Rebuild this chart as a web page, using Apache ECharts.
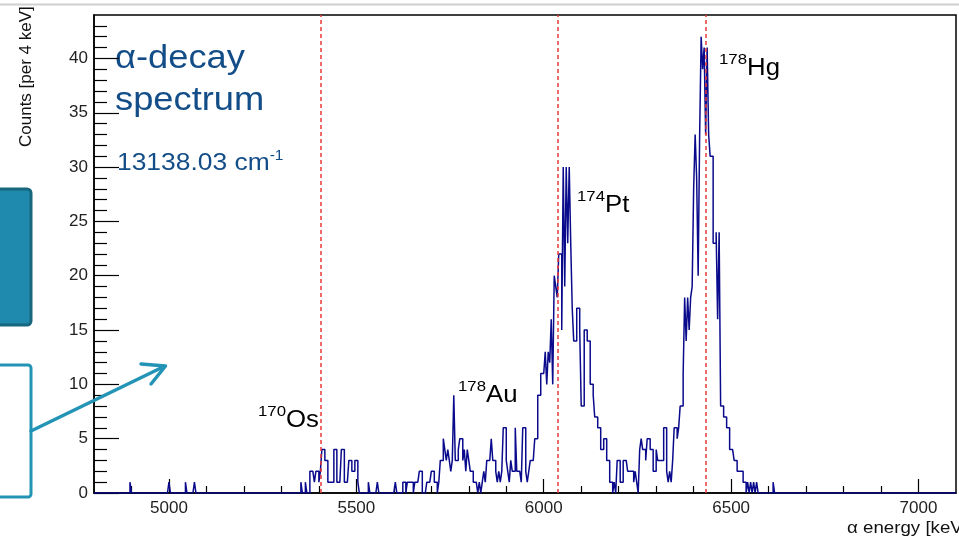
<!DOCTYPE html>
<html>
<head>
<meta charset="utf-8">
<title>alpha-decay spectrum</title>
<script src="https://cdn.jsdelivr.net/npm/echarts@6.0.0/dist/echarts.min.js"></script>
<style>
  html, body { margin: 0; padding: 0; background: #fff; }
  #main { width: 959px; height: 540px; }
</style>
</head>
<body>
<div id="main"></div>
<script>
// histogram range and ticks (keV / counts)
const binWidth = 4;
const xRange = [4800, 7100];
const yRange = [0, 44];
const xMajorTicks = [5000, 5500, 6000, 6500, 7000];
const xMinorTicks = [4900, 5100, 5200, 5300, 5400, 5600, 5700, 5800, 5900, 6100, 6200, 6300, 6400, 6600, 6700, 6800, 6900];
const yMajorTicks = [0, 5, 10, 15, 20, 25, 30, 35, 40];
const yMinorTicks = [1, 2, 3, 4, 6, 7, 8, 9, 11, 12, 13, 14, 16, 17, 18, 19, 21, 22, 23, 24,
                     26, 27, 28, 29, 31, 32, 33, 34, 36, 37, 38, 39, 41, 42, 43];

// single counts on the low energy side [energy, counts]
const lowHits = [[4896, 1], [5000, 1], [5044, 1], [5068, 1]];

// counts per 4 keV bin, each block starts at its start energy
const osStart = 5340;
const osCounts = [
  0, 0, 0, 1, 0, 0, 1, 0, 0, 2,
  2, 2, 1, 2, 2, 1, 2, 4, 4, 3,
  3, 1, 1, 1, 1, 4, 4, 1, 1, 1,
  4, 4, 1, 1, 1, 3, 3, 2, 2, 3,
  3, 1, 0, 0, 0, 0, 0, 0, 1, 0,
  0, 0, 0, 0, 1, 0, 0, 0, 0, 0,
  0, 0, 0, 0, 0, 0, 1, 0, 0, 0,
  0, 1, 1, 0, 1, 1, 1, 1, 0, 1
];
const auStart = 5660;
const auCounts = [
  1, 1, 2, 2, 0, 0, 0, 1, 1, 1,
  2, 2, 1, 1, 0, 1, 3, 3, 5, 4,
  3, 4, 3, 2, 3, 9, 3, 3, 4, 5,
  5, 3, 4, 2, 4, 3, 2, 2, 1, 1,
  1, 0, 1, 0, 1, 2, 1, 3, 3, 3,
  5, 3, 3, 2, 1, 2, 1, 2, 6, 6,
  3, 2, 1, 3, 2, 2, 6, 2, 2, 2,
  1, 6, 6, 2, 1, 2, 3, 3, 3, 5
];
const ptStart = 5980;
const ptCounts = [
  5, 9, 9, 11, 11, 11, 13, 10, 13, 12,
  16, 10, 20, 19, 18, 22, 22, 15, 30, 19,
  30, 23, 30, 23, 17, 14, 14, 17, 17, 15,
  8, 8, 15, 15, 14, 14, 10, 10, 9, 7,
  7, 6, 6, 4, 4, 5, 5, 3, 3, 1,
  1, 0, 1, 0, 3, 3, 1, 1, 3, 3,
  3, 2, 2, 2, 2, 1, 2, 1, 0, 4
];
const hgStart = 6260;
const hgCounts = [
  5, 4, 4, 3, 5, 5, 4, 4, 2, 2,
  4, 3, 3, 3, 3, 6, 6, 2, 1, 2,
  1, 3, 6, 6, 5, 6, 8, 8, 11, 18,
  14, 18, 15, 18, 19, 28, 33, 29, 20, 33,
  42, 39, 41, 33, 41, 33, 31, 31, 23, 23,
  24, 16, 24, 8, 8, 7, 7, 6, 6, 4,
  4, 4, 3, 3, 2, 2, 2, 2, 1, 1,
  0, 1, 0, 1, 0, 1, 0, 1, 0, 0,
  0, 0, 0, 0, 0, 0, 0, 0, 1
];

// reference alpha energies (dashed lines)
const lineEnergies = [5405, 6038, 6433];

const nBins = Math.round((xRange[1] - xRange[0]) / binWidth);
const counts = new Array(nBins).fill(0);
function put(e, c) {
  const i = Math.round((e - xRange[0]) / binWidth);
  if (i >= 0 && i < nBins) counts[i] += c;
}
lowHits.forEach(h => put(h[0], h[1]));
[[osStart, osCounts], [auStart, auCounts], [ptStart, ptCounts], [hgStart, hgCounts]]
  .forEach(b => b[1].forEach((c, k) => put(b[0] + k * binWidth, c)));
const histData = counts.map((c, i) => [xRange[0] + i * binWidth, c]);
histData.push([xRange[1], 0]);

const font = 'Liberation Sans, Arial, Helvetica, sans-serif';
const blue = '#134d88';
const teal = '#2394b6';

const chart = echarts.init(document.getElementById('main'));
chart.setOption({
  animation: false,
  grid: {
    left: 94, right: 3, top: 15, bottom: 47,
    show: true, borderColor: '#000', borderWidth: 1.5
  },
  xAxis: [
    {
      type: 'value', min: xRange[0], max: xRange[1], position: 'bottom',
      axisLine: { lineStyle: { color: '#000', width: 1.5 } },
      axisTick: { inside: true, length: 14, customValues: xMajorTicks, lineStyle: { color: '#000', width: 1.2 } },
      axisLabel: { customValues: xMajorTicks, formatter: v => String(v), fontSize: 17, color: '#222', margin: 7, fontFamily: font },
      splitLine: { show: false }
    },
    {
      type: 'value', min: xRange[0], max: xRange[1], position: 'bottom',
      axisLine: { show: false },
      axisTick: { inside: true, length: 7, customValues: xMinorTicks, lineStyle: { color: '#000', width: 1.2 } },
      axisLabel: { show: false },
      splitLine: { show: false }
    }
  ],
  yAxis: [
    {
      type: 'value', min: yRange[0], max: yRange[1], position: 'left',
      axisLine: { show: true, lineStyle: { color: '#000', width: 1.5 } },
      axisTick: { show: true, inside: true, length: 25, customValues: yMajorTicks, lineStyle: { color: '#000', width: 1.2 } },
      axisLabel: { customValues: yMajorTicks, fontSize: 17, color: '#222', margin: 6, fontFamily: font },
      splitLine: { show: false }
    },
    {
      type: 'value', min: yRange[0], max: yRange[1], position: 'left',
      axisLine: { show: false },
      axisTick: { show: true, inside: true, length: 13, customValues: yMinorTicks, lineStyle: { color: '#000', width: 1.2 } },
      axisLabel: { show: false },
      splitLine: { show: false }
    }
  ],
  series: [{
    type: 'line',
    step: 'end',
    data: histData,
    showSymbol: false,
    lineStyle: { color: '#0a0a8c', width: 1.5 },
    markLine: {
      symbol: 'none',
      silent: true,
      label: { show: false },
      lineStyle: { color: '#e83a3a', type: [4, 3], width: 1.5 },
      data: lineEnergies.map(e => ({ xAxis: e }))
    }
  }],
  graphic: [
    // slide decorations on the left
    { type: 'line', shape: { x1: 0, y1: 4.5, x2: 959, y2: 4.5 }, style: { stroke: '#cfcfcf', lineWidth: 2 } },
    { type: 'rect', shape: { x: -10, y: 189, width: 41, height: 136, r: 4 },
      style: { fill: '#1f8aad', stroke: '#17677f', lineWidth: 3 } },
    { type: 'rect', shape: { x: -10, y: 365, width: 41, height: 132, r: 3 },
      style: { fill: 'none', stroke: teal, lineWidth: 3 } },
    { type: 'line', z: 100, shape: { x1: 31, y1: 431, x2: 164, y2: 366.5 },
      style: { stroke: teal, lineWidth: 3.5, lineCap: 'round' } },
    { type: 'polyline', z: 100, shape: { points: [[141, 364], [165.5, 366], [151, 384]] },
      style: { stroke: teal, lineWidth: 3.5, fill: 'none', lineCap: 'round', lineJoin: 'round' } },
    // axis titles
    { type: 'text', x: 26, y: 147, rotation: Math.PI / 2,
      style: { text: 'Counts [per 4 keV]', font: '17px ' + font, fill: '#111', align: 'left', verticalAlign: 'middle', textAlign: 'left', textVerticalAlign: 'middle' } },
    { type: 'text', x: 968, y: 528, scaleX: 1.1,
      style: { text: 'α energy [keV]', font: '17px ' + font, fill: '#111', align: 'right', verticalAlign: 'middle', textAlign: 'right', textVerticalAlign: 'middle' } },
    // labels inside the plot
    { type: 'text', x: 115, y: 38, scaleX: 1.1,
      style: { text: 'α-decay\nspectrum', font: '33px ' + font, fill: blue, lineHeight: 42 } },
    { type: 'text', x: 117, y: 149, scaleX: 1.1,
      style: { text: '{a|13138.03 cm}{b|-1}', fill: blue,
        rich: { a: { fontSize: 24, fontFamily: font, fill: blue, color: blue, lineHeight: 26, verticalAlign: 'bottom' },
                b: { fontSize: 14, fontFamily: font, fill: blue, color: blue, lineHeight: 26, verticalAlign: 'top' } } } },
    isotope(258, 404, '170', 'Os'),
    isotope(458, 379, '178', 'Au'),
    isotope(577, 189, '174', 'Pt'),
    isotope(719, 52, '178', 'Hg')
  ]
});

function isotope(x, y, mass, name) {
  return {
    type: 'text', x: x, y: y, scaleX: 1.12, z: 50,
    style: {
      text: '{s|' + mass + '}{m|' + name + '}',
      rich: {
        s: { fontSize: 15, fontFamily: font, fill: '#000', color: '#000', lineHeight: 28, verticalAlign: 'top' },
        m: { fontSize: 23, fontFamily: font, fill: '#000', color: '#000', lineHeight: 28, verticalAlign: 'bottom' }
      }
    }
  };
}

window.addEventListener('resize', function () { chart.resize(); });
</script>
</body>
</html>
